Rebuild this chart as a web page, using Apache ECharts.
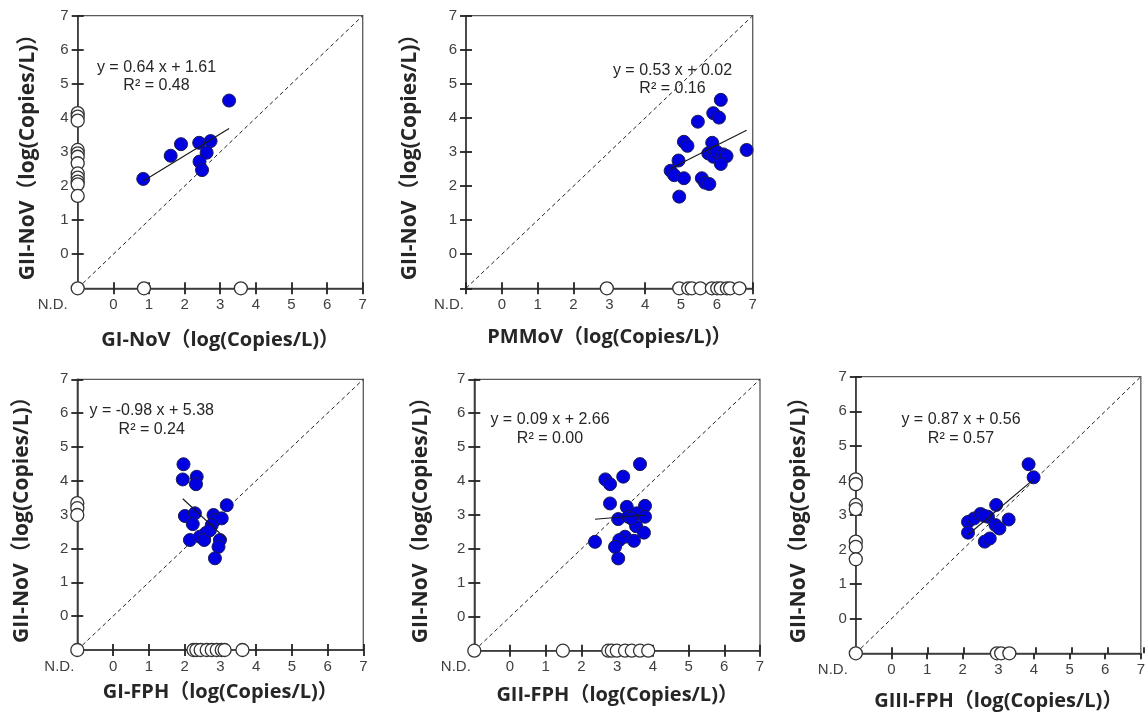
<!DOCTYPE html>
<html><head><meta charset="utf-8">
<script src="https://cdn.jsdelivr.net/npm/echarts@6/dist/echarts.min.js"></script>
<style>html,body{margin:0;padding:0;background:#fff}#c{width:1148px;height:713px}</style>
</head><body><div id="c"></div>
<script>
// ---------- data ----------
const ND = -1;                 // position used for "not detected"
const axisMin = -1, axisMax = 7;
const ndLabel = 'N.D.';
const yName = 'GII-NoV（log(Copies/L)）';
const xNames = ['GI-NoV（log(Copies/L)）', 'PMMoV（log(Copies/L)）', 'GI-FPH（log(Copies/L)）', 'GII-FPH（log(Copies/L)）', 'GIII-FPH（log(Copies/L)）'];

// panel 1: GI-NoV vs GII-NoV
const p1X = [0.84, 1.61, 1.90, 2.41, 2.73, 2.62, 2.42, 2.49, 3.25];
const p1Y = [2.21, 2.89, 3.23, 3.27, 3.32, 2.98, 2.72, 2.47, 4.51];
const p1NdX = [4.14, 4.04, 3.92, 3.06, 2.96, 2.86, 2.67, 2.37, 2.25, 2.13, 2.05, 1.71]; // GII values, x N.D.
const p1NdY = [0.86, 3.58];                                                              // x values, GII N.D.
const p1Both = 1;

// panel 2: PMMoV vs GII-NoV
const p2X = [6.11, 5.90, 6.06, 5.47, 5.08, 5.18, 5.87, 4.93, 4.71, 4.81, 5.08, 5.58, 5.67, 5.79, 4.95, 5.76, 5.90, 5.99, 6.18, 6.27, 6.11, 6.83];
const p2Y = [4.53, 4.14, 4.01, 3.89, 3.30, 3.18, 3.27, 2.75, 2.45, 2.32, 2.23, 2.23, 2.10, 2.06, 1.69, 2.96, 2.86, 3.01, 2.93, 2.88, 2.65, 3.06];
const p2NdX = [];
const p2NdY = [2.93, 4.95, 5.20, 5.30, 5.54, 5.86, 6.01, 6.11, 6.28, 6.37, 6.63];
const p2Both = 0;

// panel 3: GI-FPH vs GII-NoV
const p3X = [1.97, 1.95, 2.34, 2.32, 2.01, 2.29, 2.23, 2.15, 2.43, 2.60, 2.55, 2.81, 2.85, 2.76, 3.04, 3.18, 2.99, 2.95, 2.85, 2.71];
const p3Y = [4.49, 4.04, 4.12, 3.90, 2.96, 3.04, 2.72, 2.25, 2.35, 2.46, 2.25, 2.99, 2.84, 2.69, 2.89, 3.28, 2.25, 2.05, 1.71, 2.54];
const p3NdX = [3.34, 3.19, 2.99];
const p3NdY = [2.25, 2.33, 2.45, 2.62, 2.76, 2.90, 3.04, 3.12, 3.62];
const p3Both = 1;

// panel 4: GII-FPH vs GII-NoV
const p4X = [3.64, 2.67, 2.80, 3.17, 2.80, 3.27, 3.78, 3.03, 3.31, 3.55, 3.78, 3.53, 3.75, 3.22, 3.06, 3.47, 2.38, 2.94, 3.03, 3.40];
const p4Y = [4.50, 4.05, 3.91, 4.13, 3.34, 3.24, 3.27, 2.88, 2.95, 3.05, 2.95, 2.67, 2.48, 2.36, 2.26, 2.24, 2.21, 2.06, 1.72, 2.90];
const p4NdX = [];
const p4NdY = [1.48, 2.75, 2.85, 2.99, 3.22, 3.41, 3.64, 3.87];
const p4Both = 1;

// panel 5: GIII-FPH vs GII-NoV
const p5X = [3.85, 3.99, 2.94, 3.29, 2.15, 2.15, 2.32, 2.50, 2.71, 2.62, 2.76, 2.92, 3.03, 2.60];
const p5Y = [4.47, 4.09, 3.29, 2.87, 2.80, 2.49, 2.90, 3.03, 2.95, 2.23, 2.32, 2.71, 2.61, 2.98];
const p5NdX = [4.03, 3.89, 3.29, 3.17, 2.23, 2.08, 1.72];
const p5NdY = [2.96, 3.08, 3.31];
const p5Both = 1;

// regression coefficients shown in each panel
const fitSlope = [0.64, 0.53, -0.98, 0.09, 0.87];
const fitIntercept = [1.61, 0.02, 5.38, 2.66, 0.56];
const fitR2 = [0.48, 0.16, 0.24, 0.00, 0.57];

// ---------- layout / style ----------
const grids = [
  {left: 77.7, top: 15.7, width: 285, height: 272.6},
  {left: 466, top: 15.7, width: 286.7, height: 272.6},
  {left: 77.3, top: 379.3, width: 286, height: 270.7},
  {left: 474.3, top: 379.3, width: 285.7, height: 271.4},
  {left: 855.8, top: 376.7, width: 287.5, height: 276.6}
];
const ndShift = [25, 17, 18, 18.5, 23];
const xNameSize = 20, yNameSize = 21;
const xNameGap = [42, 39, 32.5, 35, 38];
const yNameGap = [39, 45.5, 44.3, 43, 46];
const eqPos = [[156.5, 68, 86], [672.5, 70.7, 89], [151.7, 410.7, 429.3], [550, 420, 438.7], [961, 419.3, 438.7]];

const panels = [
  [p1X, p1Y, p1NdX, p1NdY, p1Both],
  [p2X, p2Y, p2NdX, p2NdY, p2Both],
  [p3X, p3Y, p3NdX, p3NdY, p3Both],
  [p4X, p4Y, p4NdX, p4NdY, p4Both],
  [p5X, p5Y, p5NdX, p5NdY, p5Both]
];

const labelFont = "'Liberation Sans', Arial, sans-serif";
const nameFont = "'Open Sans', 'Noto Sans CJK JP', sans-serif";
const axisCol = '#333333';
const tickCol = '#222222';
const tickLen = 6, tickW = 1.8;

const option = {
  animation: false,
  backgroundColor: '#fff',
  grid: [], xAxis: [], yAxis: [], series: [], graphic: []
};

panels.forEach((p, i) => {
  const g = grids[i];
  option.grid.push(Object.assign({show: true, borderColor: '#5a5a5a', borderWidth: 1.3, backgroundColor: 'transparent'}, g));
  option.xAxis.push({
    type: 'value', gridIndex: i, min: axisMin, max: axisMax, interval: 1,
    name: xNames[i], nameLocation: 'middle', nameGap: xNameGap[i],
    nameTextStyle: {fontFamily: nameFont, fontWeight: 'bold', fontSize: xNameSize, color: '#262626'},
    axisLine: {show: true, onZero: false, lineStyle: {color: axisCol, width: 1.5}},
    axisTick: {show: true, inside: false, length: tickLen, lineStyle: {color: tickCol, width: tickW}},
    splitLine: {show: false},
    axisLabel: {
      margin: 9, fontFamily: labelFont, fontSize: 15, color: '#404040',
      formatter: v => v === ND ? '{nd|' + ndLabel + '}' : String(v),
      rich: {nd: {fontFamily: labelFont, fontSize: 15, color: '#404040', padding: [0, ndShift[i] * 2, 0, 0]}}
    }
  });
  option.yAxis.push({
    type: 'value', gridIndex: i, min: axisMin, max: axisMax, interval: 1,
    name: yName, nameLocation: 'middle', nameGap: yNameGap[i],
    nameTextStyle: {fontFamily: nameFont, fontWeight: 'bold', fontSize: yNameSize, color: '#262626'},
    axisLine: {show: true, onZero: false, lineStyle: {color: axisCol, width: 1.5}},
    axisTick: {show: true, inside: false, length: tickLen, lineStyle: {color: tickCol, width: tickW}},
    splitLine: {show: false},
    axisLabel: {margin: 9, fontFamily: labelFont, fontSize: 15, color: '#404040',
      formatter: v => v === ND ? '' : String(v)}
  });

  const [xs, ys, ndx, ndy, both] = p;
  const open = [];
  ndx.forEach(v => open.push([ND, v]));
  ndy.forEach(v => open.push([v, ND]));
  if (both) open.push([ND, ND]);
  const blue = xs.map((x, k) => [x, ys[k]]);
  const xmin = Math.min(...xs), xmax = Math.max(...xs);
  const fitLine = [[xmin, fitSlope[i] * xmin + fitIntercept[i]], [xmax, fitSlope[i] * xmax + fitIntercept[i]]];

  option.series.push({
    type: 'line', xAxisIndex: i, yAxisIndex: i, data: [[axisMin, axisMin], [axisMax, axisMax]],
    showSymbol: false, symbol: 'none', silent: true, clip: false,
    lineStyle: {color: '#222', width: 1, type: [4, 3]}, z: 2
  });
  option.series.push({
    type: 'scatter', xAxisIndex: i, yAxisIndex: i, data: open, symbolSize: 13, clip: false,
    itemStyle: {color: '#ffffff', borderColor: '#333', borderWidth: 1.3, opacity: 1}, z: 3
  });
  option.series.push({
    type: 'scatter', xAxisIndex: i, yAxisIndex: i, data: blue, symbolSize: 13, clip: false,
    itemStyle: {color: '#0000e0', borderColor: '#1b1b55', borderWidth: 1, opacity: 1}, z: 3
  });
  option.series.push({
    type: 'line', xAxisIndex: i, yAxisIndex: i, data: fitLine, showSymbol: false, symbol: 'none',
    silent: true, lineStyle: {color: '#1a1a1a', width: 1.2}, z: 4
  });

  const sign = fitIntercept[i] >= 0 ? '+' : '-';
  const eq = 'y = ' + fitSlope[i].toFixed(2) + ' x ' + sign + ' ' + Math.abs(fitIntercept[i]).toFixed(2);
  const r2 = 'R² = ' + fitR2[i].toFixed(2);
  const e = eqPos[i];
  option.graphic.push({type: 'text', x: e[0], y: e[1], z: 10,
    style: {text: eq, fill: '#262626', font: "16px 'Liberation Sans', Arial", textAlign: 'center', textVerticalAlign: 'middle'}});
  option.graphic.push({type: 'text', x: e[0], y: e[2], z: 10,
    style: {text: r2, fill: '#262626', font: "16px 'Liberation Sans', Arial", textAlign: 'center', textVerticalAlign: 'middle'}});
});

// overlay grids carrying the inward half of the crossing tick marks
panels.forEach((p, i) => {
  const gi = option.grid.length;
  option.grid.push(Object.assign({show: false}, grids[i]));
  option.xAxis.push({type: 'value', gridIndex: gi, min: axisMin, max: axisMax, interval: 1,
    axisLine: {show: false, onZero: false}, axisLabel: {show: false}, splitLine: {show: false},
    axisTick: {show: true, inside: true, length: tickLen, lineStyle: {color: tickCol, width: tickW}}});
  option.yAxis.push({type: 'value', gridIndex: gi, min: axisMin, max: axisMax, interval: 1,
    axisLine: {show: false, onZero: false}, axisLabel: {show: false}, splitLine: {show: false},
    axisTick: {show: true, inside: true, length: tickLen, lineStyle: {color: tickCol, width: tickW}}});
});

const chart = echarts.init(document.getElementById('c'), null, {renderer: 'canvas'});
chart.setOption(option);
</script></body></html>
